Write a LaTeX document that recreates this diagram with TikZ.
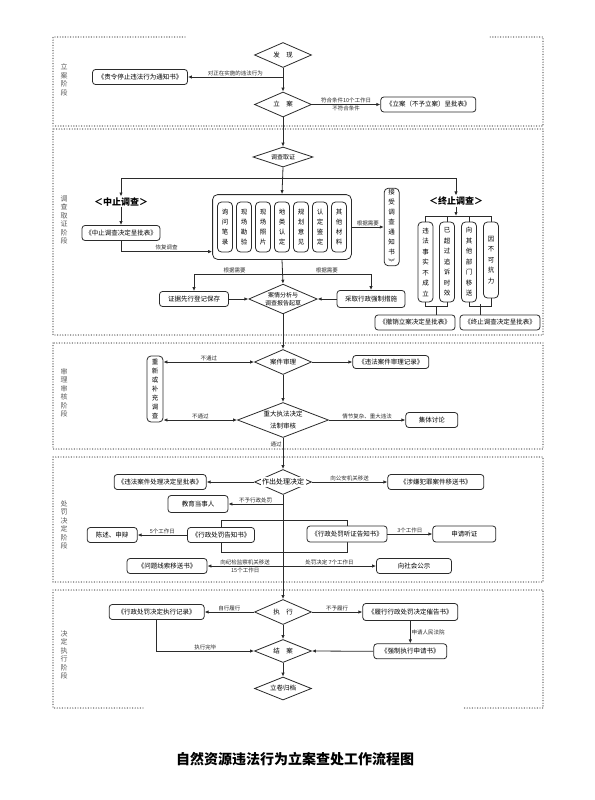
\documentclass[tikz,border=0pt]{standalone}
\usepackage{fontspec}
\setmainfont{Noto Sans CJK SC}
\usetikzlibrary{arrows.meta,positioning,fit,calc,shapes.geometric,backgrounds}
\definecolor{InkGray}{HTML}{2B2B2B}
\definecolor{StageGray}{HTML}{5A5A5A}
\tikzset{
  doc/.style={draw=InkGray,rounded corners=3pt,fill=white,align=center,line width=0.8pt,
              minimum height=15pt,inner sep=1.5pt,font=\fontsize{6.5}{7.5}\selectfont},
  colbox/.style={draw=InkGray,rounded corners=4pt,fill=white,align=center,line width=0.8pt,
              minimum width=15pt,inner sep=1pt,font=\fontsize{6.5}{10}\selectfont},
  decision/.style={diamond,draw=InkGray,fill=white,line width=0.8pt,aspect=2.3,inner sep=0pt,
              minimum width=57pt,minimum height=25pt,align=center,font=\fontsize{6.5}{8}\selectfont},
  flow/.style={-{Latex[length=4pt,width=3.4pt]},line width=0.8pt,draw=InkGray},
  twoway/.style={{Latex[length=4pt,width=3.4pt]}-{Latex[length=4pt,width=3.4pt]},line width=0.8pt,draw=InkGray},
  link/.style={line width=0.8pt,draw=InkGray},
  note/.style={font=\fontsize{5.5}{6}\selectfont,inner sep=1pt,text=InkGray},
  stage/.style={draw=StageGray,line width=1.4pt,dash pattern=on 0pt off 2.6pt,line cap=round},
  phase/.style={align=center,font=\fontsize{7}{8.5}\selectfont,text=StageGray},
  halt/.style={font=\fontsize{9}{10}\selectfont\bfseries,inner sep=1pt}
}

\begin{document}
\begin{tikzpicture}[x=1pt,y=-1pt]
  \begin{scope}[on background layer]
    \fill[white] (0,0) rectangle (594,800);
  \end{scope}
  \useasboundingbox (0,0) rectangle (594,800);

  % stage frames
  \draw[stage] (185,37) -- (53,37) -- (53,126) -- (543,126) -- (543,37) -- (488,37);
  \draw[stage] (53,129) rectangle (543,335);
  \draw[stage] (53,343) rectangle (543,449);
  \draw[stage] (53,457) rectangle (543,582);
  \draw[stage] (143,708) -- (53,708) -- (53,590) -- (543,590) -- (543,708) -- (463,708);

  \node[phase] (p1) at (64,80) {立\\案\\阶\\段};
  \node[phase] (p2) at (64,220) {调\\查\\取\\证\\阶\\段};
  \node[phase] (p3) at (64,393) {审\\理\\审\\核\\阶\\段};
  \node[phase] (p4) at (64,525) {处\\罚\\决\\定\\阶\\段};
  \node[phase] (p5) at (64,655) {决\\定\\执\\行\\阶\\段};

  % filing
  \node[decision] (fx) at (283,55) {发\quad 现};
  \node[doc,minimum width=95pt] (zl) at (140,77) {《责令停止违法行为通知书》};
  \node[decision] (la) at (283,104.5) {立\quad 案};
  \node[doc,minimum width=95pt,right=68.5pt of la] (by) {《立案（不予立案）呈批表》};

  \draw[flow] (fx.south |- zl.east) -- node[note,above]{对正在实施的违法行为} (zl.east);
  \draw[flow] (fx.south) -- (la.north);
  \draw[flow] (la.east) -- node[note,above]{符合条件10个工作日} node[note,below]{不符合条件} (by.west);

  % investigation
  \node[decision,minimum width=60pt,minimum height=20pt,font=\fontsize{6}{7}\selectfont] (dc) at (283,157) {调查取证};
  \draw[flow] (la.south) -- (dc.north);
  \coordinate (zd) at (283,178);
  \node[halt] (zz) at (121,202) {＜中止调查＞};
  \node[halt] (zhz) at (456,201) {＜终止调查＞};
  \node[doc,minimum width=78pt] (zzb) at (121,233) {《中止调查决定呈批表》};

  \foreach \nm/\txt [count=\i from 0] in {ev0/询\\问\\笔\\录, ev1/现\\场\\勘\\验, ev2/现\\场\\照\\片,
      ev3/地\\类\\认\\定, ev4/规\\划\\意\\见, ev5/认\\定\\鉴\\定, ev6/其\\他\\材\\料}
    \node[colbox,minimum height=50pt] (\nm) at (225+19*\i,227) {\txt};
  \node[fit=(ev0)(ev6),draw=InkGray,line width=0.8pt,rounded corners=5pt,inner xsep=4.5pt,inner ysep=7pt] (evid) {};
  \node[colbox,minimum height=75pt,right=32pt of evid] (jstz) {接\\受\\调\\查\\通\\知\\书\\︾};

  \draw[link] (zz.north |- zd) -- (zhz.north |- zd);
  \draw[flow] (zz.north |- zd) -- (zz.north);
  \draw[flow] (zhz.north |- zd) -- (zhz.north);
  \draw[flow] (dc.south) -- (evid.north);
  \draw[flow] (zz.south) -- (zzb.north);
  \draw[flow] (zzb.south) |- node[note,above,pos=0.75]{恢复调查} ($(evid.west)!0.75!(evid.south west)$);
  \draw[flow] (evid.east |- jstz.west) -- node[note,above]{根据需要} (jstz.west);

  % termination reasons
  \node[colbox,minimum height=80pt,font=\fontsize{6.5}{10.5}\selectfont] (zz1) at (425.5,262) {违\\法\\事\\实\\不\\成\\立};
  \node[colbox,minimum height=80pt,font=\fontsize{6.5}{10.5}\selectfont] (zz2) at (447,262) {已\\超\\过\\追\\诉\\时\\效};
  \node[colbox,minimum height=80pt,font=\fontsize{6.5}{10.5}\selectfont] (zz3) at (469,262) {向\\其\\他\\部\\门\\移\\送};
  \node[colbox,minimum height=76pt,font=\fontsize{6.5}{10.5}\selectfont] (zz4) at (491,260) {因\\不\\可\\抗\\力};
  \node[doc,minimum width=80pt] (cxb) at (415,322.5) {《撤销立案决定呈批表》};
  \node[doc,minimum width=80pt] (zzjb) at (500,322.5) {《终止调查决定呈批表》};

  \coordinate (zt) at (456,216);
  \draw[flow] (zhz.south) -- (zt);
  \draw[link] (zz1.north |- zt) -- (zz4.north |- zt);
  \foreach \k in {1,...,4}
    \draw[link] (zz\k.north |- zt) -- (zz\k.north);
  \draw[link] (zz1.south) -- ++(0,4) -| (zz2.south);
  \draw[link] (zz3.south) -- ++(0,4) -| (zz4.south);
  \coordinate (b1) at ($(zz1.south)!0.5!(zz2.south)+(0,4)$);
  \coordinate (b2) at ($(zz3.south)!0.5!(zz4.south)+(0,4)$);
  \draw[link] (b1) -- (b1 |- cxb.north);
  \draw[link] (b2) -- (b2 |- zzjb.north);

  % analysis
  \node[decision,minimum width=67pt,minimum height=29pt,font=\fontsize{6}{8.5}\selectfont] (ax) at (283,299) {案情分析与\\调查报告起草};
  \node[doc,minimum width=69pt] (djbc) at (194,299) {证据先行登记保存};
  \node[doc,minimum width=68pt,minimum height=17pt] (qz) at (371,299) {采取行政强制措施};
  \coordinate (s2) at (283,274);
  \draw[flow] (evid.south) -- (ax.north);
  \draw[link] (djbc.north |- s2) -- node[note,above,pos=0.23]{根据需要} node[note,above,pos=0.75]{根据需要} (qz.north |- s2);
  \draw[flow] (djbc.north |- s2) -- (djbc.north);
  \draw[flow] (qz.north |- s2) -- (qz.north);
  \draw[flow] (djbc) -- (ax);
  \draw[flow] (qz) -- (ax);

  % review
  \node[decision] (sl) at (283,362) {案件审理};
  \node[doc,minimum width=76pt,minimum height=13pt,right=40.5pt of sl] (sljl) {《违法案件审理记录》};
  \node[colbox,minimum width=16pt,minimum height=66pt,font=\fontsize{6.5}{9}\selectfont] (cx) at (155,389) {重\\新\\或\\补\\充\\调\\查};
  \node[decision,minimum width=91pt,minimum height=35pt,font=\fontsize{6.5}{12}\selectfont] (fz) at (283,420) {重大执法决定\\法制审核};
  \node[doc,minimum width=52pt,right=76.5pt of fz] (jt) {集体讨论};

  \draw[flow] (ax.south) -- (sl.north);
  \draw[twoway] (cx.east |- sl.west) -- node[note,above]{不通过} (sl.west);
  \draw[flow] (sl.east) -- (sljl.west);
  \draw[flow] (sl.south) -- (fz.north);
  \draw[twoway] (cx.east |- fz.west) -- node[note,above]{不通过} (fz.west);
  \draw[flow] (fz.east) -- node[note,above]{情节复杂、重大违法} (jt.west);

  % decision
  \node[decision] (cl) at (283,482) {};
  \node[fill=white,inner sep=1.5pt,font=\fontsize{7}{8}\selectfont] (clt) at (cl) {作出处理决定};
  \node[doc,minimum width=92pt,left=47.5pt of cl] (cljb) {《违法案件处理决定呈批表》};
  \node[doc,minimum width=96pt,right=75.5pt of cl] (ys) {《涉嫌犯罪案件移送书》};
  \node[doc,minimum width=60pt,minimum height=17pt] (jy) at (198,504) {教育当事人};
  \node[doc,minimum width=67pt] (gzs) at (221,535) {《行政处罚告知书》};
  \node[doc,minimum width=80pt,minimum height=16pt] (tzs) at (347,534) {《行政处罚听证告知书》};
  \node[doc,minimum width=50pt,left=49.5pt of gzs] (cs) {陈述、申辩};
  \node[doc,minimum width=63pt,minimum height=16pt,right=45pt of tzs] (sq) {申请听证};
  \node[doc,minimum width=80pt] (xs) at (167,566) {《问题线索移送书》};
  \node[doc,minimum width=75pt] (gs) at (414,566) {向社会公示};

  \draw[flow] (fz.south) -- node[note,left,pos=0.2]{通过} (cl.north);
  \draw[flow] (cl.west) -- (cljb.east);
  \draw[flow] (cl.east) -- node[note,above]{向公安机关移送} (ys.west);
  \coordinate (s3) at (283,504);
  \coordinate (s4a) at (283,520);
  \coordinate (s4b) at (283,552);
  \coordinate (s5) at (283,566);
  \begin{scope}[on background layer]
    \draw[link] (gzs.center |- s4a) rectangle (tzs.center |- s4b);
  \end{scope}
  \draw[flow] (s3) -- node[note,above]{不予行政处罚} (jy.east);
  \draw[flow] (gzs.west) -- node[note,above]{5个工作日} (cs.east);
  \draw[flow] (tzs.east) -- node[note,above]{3个工作日} (sq.west);
  \draw[flow] (s5) -- node[note,above]{向纪检监察机关移送} node[note,below]{15个工作日} (xs.east);
  \draw[flow] (s5) -- node[note,above]{处罚决定\ 7个工作日} (gs.west);

  % execution
  \node[decision] (zx) at (283,612) {执\quad 行};
  \node[doc,minimum width=95pt,left=49.5pt of zx] (jl) {《行政处罚决定执行记录》};
  \node[doc,minimum width=95pt,minimum height=17pt,right=50.5pt of zx] (cg) {《履行行政处罚决定催告书》};
  \node[doc,minimum width=73pt,below=22.5pt of cg] (qzsq) {《强制执行申请书》};
  \node[decision,minimum height=23pt] (ja) at (283,651) {结\quad 案};
  \node[decision,minimum height=23pt] (gd) at (283,688.5) {立卷归档};

  \draw[flow] (cl.south) -- (zx.north);
  \draw[flow] (zx.west) -- node[note,above]{自行履行} (jl.east);
  \draw[flow] (zx.east) -- node[note,above]{不予履行} (cg.west);
  \draw[flow] (cg.south) -- node[note,right]{申请人民法院} (qzsq.north);
  \draw[flow] (qzsq.west) -- (ja.east);
  \draw[flow] (jl.south) |- node[note,above,pos=0.75]{执行完毕} (ja.west);
  \draw[flow] (zx.south) -- (ja.north);
  \draw[flow] (ja.south) -- (gd.north);

  \node[font=\fontsize{14}{16}\selectfont\bfseries] (title) at (295,759) {自然资源违法行为立案查处工作流程图};
\end{tikzpicture}
\end{document}
